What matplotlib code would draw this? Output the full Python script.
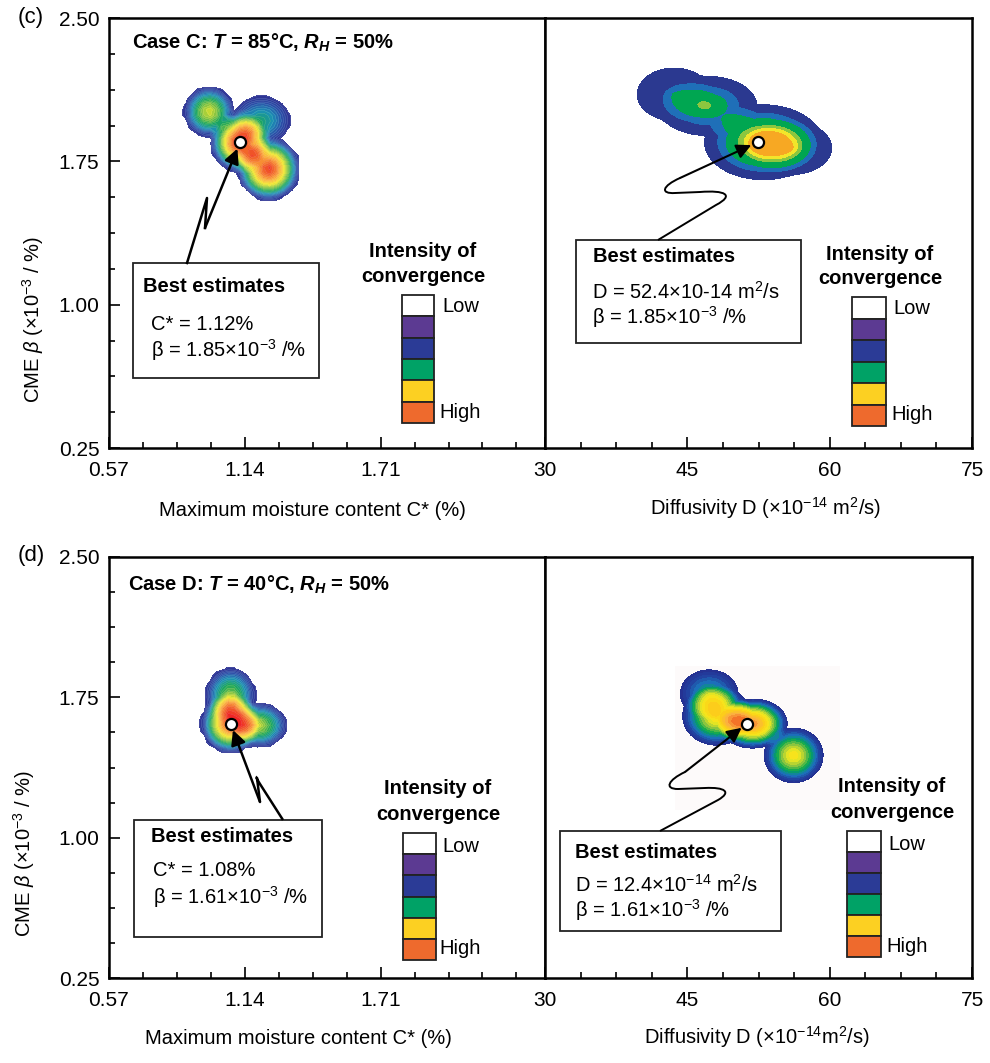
import numpy as np
import matplotlib
matplotlib.use('Agg')
import matplotlib.pyplot as plt
import matplotlib.transforms as mtransforms
from matplotlib.colors import LinearSegmentedColormap
from matplotlib.patches import Rectangle, PathPatch
from matplotlib.path import Path
from matplotlib.lines import Line2D

plt.rcParams['font.family'] = ['Liberation Sans', 'DejaVu Sans']
plt.rcParams['mathtext.fontset'] = 'custom'
plt.rcParams['mathtext.rm'] = 'Liberation Sans'
plt.rcParams['mathtext.it'] = 'Liberation Sans:italic'
plt.rcParams['mathtext.bf'] = 'Liberation Sans:bold:italic'

# axes
c_lim = (0.57, 2.40)
d_lim = (30, 75)
beta_lim = (0.25, 2.50)
c_ticks = [0.57, 1.14, 1.71]
d_ticks = [30, 45, 60, 75]
beta_ticks = [0.25, 1.00, 1.75, 2.50]

# cases
case_names = ['C', 'D']
panel_tags = ['(c)', '(d)']
case_temp = [85, 40]
case_rh = [50, 50]
best_c = [1.12, 1.08]
best_beta = [1.85, 1.61]
best_d = [52.4, 12.4]      # as printed in the box
marker_d = [52.4, 51.3]    # position of the point on the D axis

# convergence lobes: (x, beta, height, reach_x, reach_beta)
peaks_c_top = [(1.12, 1.85, 1.00, 0.121, 0.152),
               (1.24, 1.71, 0.95, 0.130, 0.162),
               (0.99, 2.01, 0.60, 0.105, 0.131),
               (1.21, 1.965, 0.35, 0.126, 0.131)]
peaks_d_top = [(53.0, 1.85, 1.00, 6.3, 0.200),
               (55.8, 1.82, 0.32, 4.7, 0.150),
               (47.1, 2.04, 0.62, 5.4, 0.160),
               (43.6, 2.10, 0.25, 4.2, 0.150)]
peaks_c_bot = [(1.08, 1.61, 1.00, 0.121, 0.155),
               (1.08, 1.76, 0.55, 0.105, 0.150),
               (1.20, 1.60, 0.60, 0.117, 0.118)]
peaks_d_bot = [(51.9, 1.61, 1.00, 3.7, 0.134),
               (48.1, 1.65, 0.75, 3.7, 0.160),
               (47.3, 1.77, 0.40, 3.2, 0.134),
               (56.2, 1.44, 0.72, 3.2, 0.150)]
peaks_c = [peaks_c_top, peaks_c_bot]
peaks_d = [peaks_d_top, peaks_d_bot]

legend_colors = ['white', '#5c3a92', '#2b3b96', '#00a266', '#fcd022', '#ee6a2d']

jet_fine = LinearSegmentedColormap.from_list('conv_fine', ['#2e3192', '#2b4fa8', '#1b8fb5', '#19a65a', '#8cc63f',
                                                           '#f2e928', '#fbb03b', '#f26b2a', '#ed1c24'])
band_colors = ['#2b3990', '#1f6fb8', '#00a651', '#8dc63f', '#f3e52a', '#f7a823']
band_levels = [0.02, 0.24, 0.38, 0.58, 0.68, 0.78, 5]
smooth_cmap = LinearSegmentedColormap.from_list('conv_smooth', ['#262f8f', '#2241a0', '#1b75bc', '#00a651', '#8dc63f',
                                                                '#f5ea1e', '#fcd116', '#fbb040', '#f26522'])

W, H = 990, 1063
fig = plt.figure(figsize=(9.9, 10.63), dpi=100)
pix = mtransforms.Affine2D().scale(1.0 / W, -1.0 / H).translate(0, 1) + fig.transFigure
FS = 14.5


def axes_px(x0, y0, x1, y1):
    return fig.add_axes([x0 / W, 1 - y1 / H, (x1 - x0) / W, (y1 - y0) / H])


def ftext(px, py, s, **kw):
    kw.setdefault('va', 'center')
    kw.setdefault('fontsize', FS)
    fig.text(px / W, 1 - py / H, s, **kw)


def field(peaks, xs, ys, p=1.0):
    # sum of elliptic lobes, flat-topped when p > 1
    X, Y = np.meshgrid(xs, ys)
    Z = np.zeros_like(X)
    for x0, y0, h, rx, ry in peaks:
        d = np.sqrt(((X - x0) / rx) ** 2 + ((Y - y0) / ry) ** 2)
        Z += h * np.clip(1 - d ** p, 0, None)
    return X, Y, Z


def style(ax):
    for sp in ax.spines.values():
        sp.set_linewidth(1.8)
    ax.tick_params(which='both', direction='in', top=False, right=False, labelsize=15, width=1.2)
    ax.tick_params(axis='x', pad=9)
    ax.tick_params(axis='y', pad=7)
    ax.tick_params(which='major', length=8)
    ax.tick_params(which='minor', length=4)


def box(x0, y0, x1, y1):
    fig.add_artist(Rectangle((x0, y0), x1 - x0, y1 - y0, transform=pix, fill=False, lw=1.3, ec='#222222'))


def scale_legend(cx, ty, bx0, by0, bx1, by1, lx, ly, hx, hy):
    ftext(cx, ty, 'Intensity of', ha='center', fontweight='bold')
    ftext(cx, ty + 25, 'convergence', ha='center', fontweight='bold')
    bh = (by1 - by0) / len(legend_colors)
    for k, col in enumerate(legend_colors):
        fig.add_artist(Rectangle((bx0, by0 + k * bh), bx1 - bx0, bh, transform=pix,
                                 fc=col, ec='#222222', lw=1.3))
    ftext(lx, ly, 'Low', ha='left')
    ftext(hx, hy, 'High', ha='left')


def arrow_to(ax, start_px, xy, lw=1.5):
    ax.annotate('', xy=xy, xycoords='data', xytext=(start_px[0] / W, 1 - start_px[1] / H),
                textcoords='figure fraction',
                arrowprops=dict(arrowstyle='-|>', color='k', lw=lw, mutation_scale=22,
                                shrinkA=0, shrinkB=5))


rows = [(18, 448), (557, 978)]
axes = []
for i, (top, bot) in enumerate(rows):
    axl = axes_px(109, top, 545, bot)
    axr = axes_px(545, top, 972, bot)
    axes.append((axl, axr))
    for ax in (axl, axr):
        style(ax)
        ax.set_ylim(beta_lim)

    axl.set_xlim(c_lim)
    axl.set_xticks(c_ticks)
    axl.set_xticklabels(['%.2f' % v for v in c_ticks])
    axl.set_xticks(np.arange(0.57, 2.40, 0.1425), minor=True)
    axl.set_yticks(beta_ticks)
    axl.set_yticklabels(['%.2f' % v for v in beta_ticks])
    axl.set_yticks(np.arange(0.25, 2.5, 0.1875), minor=True)

    axr.set_xlim(d_lim)
    axr.set_xticks(d_ticks)
    axr.set_xticks(np.arange(30, 75, 3.75), minor=True)
    axr.set_yticks([])

    # moisture-content map: coarse grid gives the faceted contours
    X, Y, Z = field(peaks_c[i], np.arange(0.57, 2.40, 0.025), np.arange(0.25, 2.5, 0.03), p=1.5)
    lv = np.linspace(0.03, Z.max(), 30)
    axl.contourf(X, Y, Z, levels=lv, cmap=jet_fine)
    axl.contour(X, Y, Z, levels=lv, colors='white', linewidths=0.3, alpha=0.25)
    axl.plot(best_c[i], best_beta[i], 'o', mfc='white', mec='k', ms=8, mew=1.6, zorder=5)

    # diffusivity map
    Xd, Yd, Zd = field(peaks_d[i], np.linspace(30, 75, 500), np.linspace(0.25, 2.5, 500),
                       p=1.0 if i == 0 else 1.4)
    if i == 0:
        axr.contourf(Xd, Yd, Zd, levels=band_levels, colors=band_colors)
    else:
        axr.add_patch(Rectangle((43.7, 1.15), 17.4, 0.77, fc='#fdfafa', ec='none', zorder=0))
        axr.contourf(Xd, Yd, Zd, levels=np.linspace(0.03, Zd.max(), 20), cmap=smooth_cmap)
    axr.plot(marker_d[i], best_beta[i], 'o', mfc='white', mec='k', ms=8, mew=1.6, zorder=5)

    ylab = r'CME $\beta$ (×10$^{-3}$ / %)'
    ftext(33 if i == 0 else 24, (top + bot) / 2 + 86, ylab, rotation=90, ha='center')
    ftext(31, top - 1, panel_tags[i], ha='center', fontsize=16)
    ftext(132 if i == 0 else 128, top + 25 if i == 0 else top + 28,
          r'Case %s: $\mathbf{T}$ = %d°C, $\mathbf{R_H}$ = %d%%' % (case_names[i], case_temp[i], case_rh[i]),
          ha='left', fontweight='bold', fontsize=14.5)

# x labels
ftext(312, 510, 'Maximum moisture content C* (%)', ha='center')
ftext(766, 508, r'Diffusivity D (×10$^{-14}$ m$^2$/s)', ha='center')
ftext(298, 1038, 'Maximum moisture content C* (%)', ha='center')
ftext(757, 1037, r'Diffusivity D (×10$^{-14}$m$^2$/s)', ha='center')

# case C, moisture content
axl, axr = axes[0]
box(133, 263, 319, 378)
ftext(143, 286, 'Best estimates', ha='left', fontweight='bold')
ftext(151, 324, 'C* = %.2f%%' % best_c[0], ha='left')
ftext(151, 350, r'β = %.2f×10$^{-3}$ /%%' % best_beta[0], ha='left')
fig.add_artist(Line2D([187, 207, 205], [263, 198, 228], transform=pix, color='k', lw=1.8))
arrow_to(axl, (205, 228), (best_c[0], best_beta[0]), lw=1.8)
scale_legend(423, 252, 402, 295, 434, 423, 442, 307, 439, 412)

# case C, diffusivity
box(576, 240, 801, 343)
ftext(593, 256, 'Best estimates', ha='left', fontweight='bold')
ftext(592, 292, r'D = %.1f×10-14 m$^2$/s' % best_d[0], ha='left')
ftext(592, 317, r'β = %.2f×10$^{-3}$ /%%' % best_beta[0], ha='left')
verts = [(658, 240), (716, 205), (735, 195), (725, 190), (700, 192), (675, 193),
         (660, 194), (662, 186), (680, 178)]
codes = [Path.MOVETO, Path.LINETO, Path.CURVE4, Path.CURVE4, Path.CURVE4, Path.LINETO,
         Path.CURVE4, Path.CURVE4, Path.CURVE4]
fig.add_artist(PathPatch(Path(verts, codes), transform=pix, fill=False, lw=1.4, ec='k'))
arrow_to(axr, (680, 178), (marker_d[0], best_beta[0]))
scale_legend(880, 254, 852, 297, 886, 426, 893, 309, 891, 414)

# case D, moisture content
axl, axr = axes[1]
box(134, 820, 322, 937)
ftext(151, 837, 'Best estimates', ha='left', fontweight='bold')
ftext(153, 871, 'C* = %.2f%%' % best_c[1], ha='left')
ftext(153, 897, r'β = %.2f×10$^{-3}$ /%%' % best_beta[1], ha='left')
verts = [(283, 820), (260, 784), (255, 776), (257, 778), (260, 802)]
codes = [Path.MOVETO, Path.LINETO, Path.CURVE3, Path.CURVE3, Path.LINETO]
fig.add_artist(PathPatch(Path(verts, codes), transform=pix, fill=False, lw=1.8, ec='k'))
arrow_to(axl, (260, 802), (best_c[1], best_beta[1]), lw=1.8)
scale_legend(438, 789, 403, 833, 436, 960, 442, 846, 439, 949)

# case D, diffusivity
box(560, 831, 781, 931)
ftext(575, 853, 'Best estimates', ha='left', fontweight='bold')
ftext(575, 885, r'D = %.1f×10$^{-14}$ m$^2$/s' % best_d[1], ha='left')
ftext(575, 910, r'β = %.2f×10$^{-3}$ /%%' % best_beta[1], ha='left')
verts = [(660, 831), (718, 800), (732, 792), (725, 787), (705, 788), (678, 789),
         (664, 789), (668, 780), (685, 772)]
codes = [Path.MOVETO, Path.LINETO, Path.CURVE4, Path.CURVE4, Path.CURVE4, Path.LINETO,
         Path.CURVE4, Path.CURVE4, Path.CURVE4]
fig.add_artist(PathPatch(Path(verts, codes), transform=pix, fill=False, lw=1.4, ec='k'))
arrow_to(axr, (685, 772), (marker_d[1], best_beta[1]))
scale_legend(892, 787, 847, 831, 881, 957, 888, 844, 886, 946)

fig.savefig('out.png', dpi=100)
